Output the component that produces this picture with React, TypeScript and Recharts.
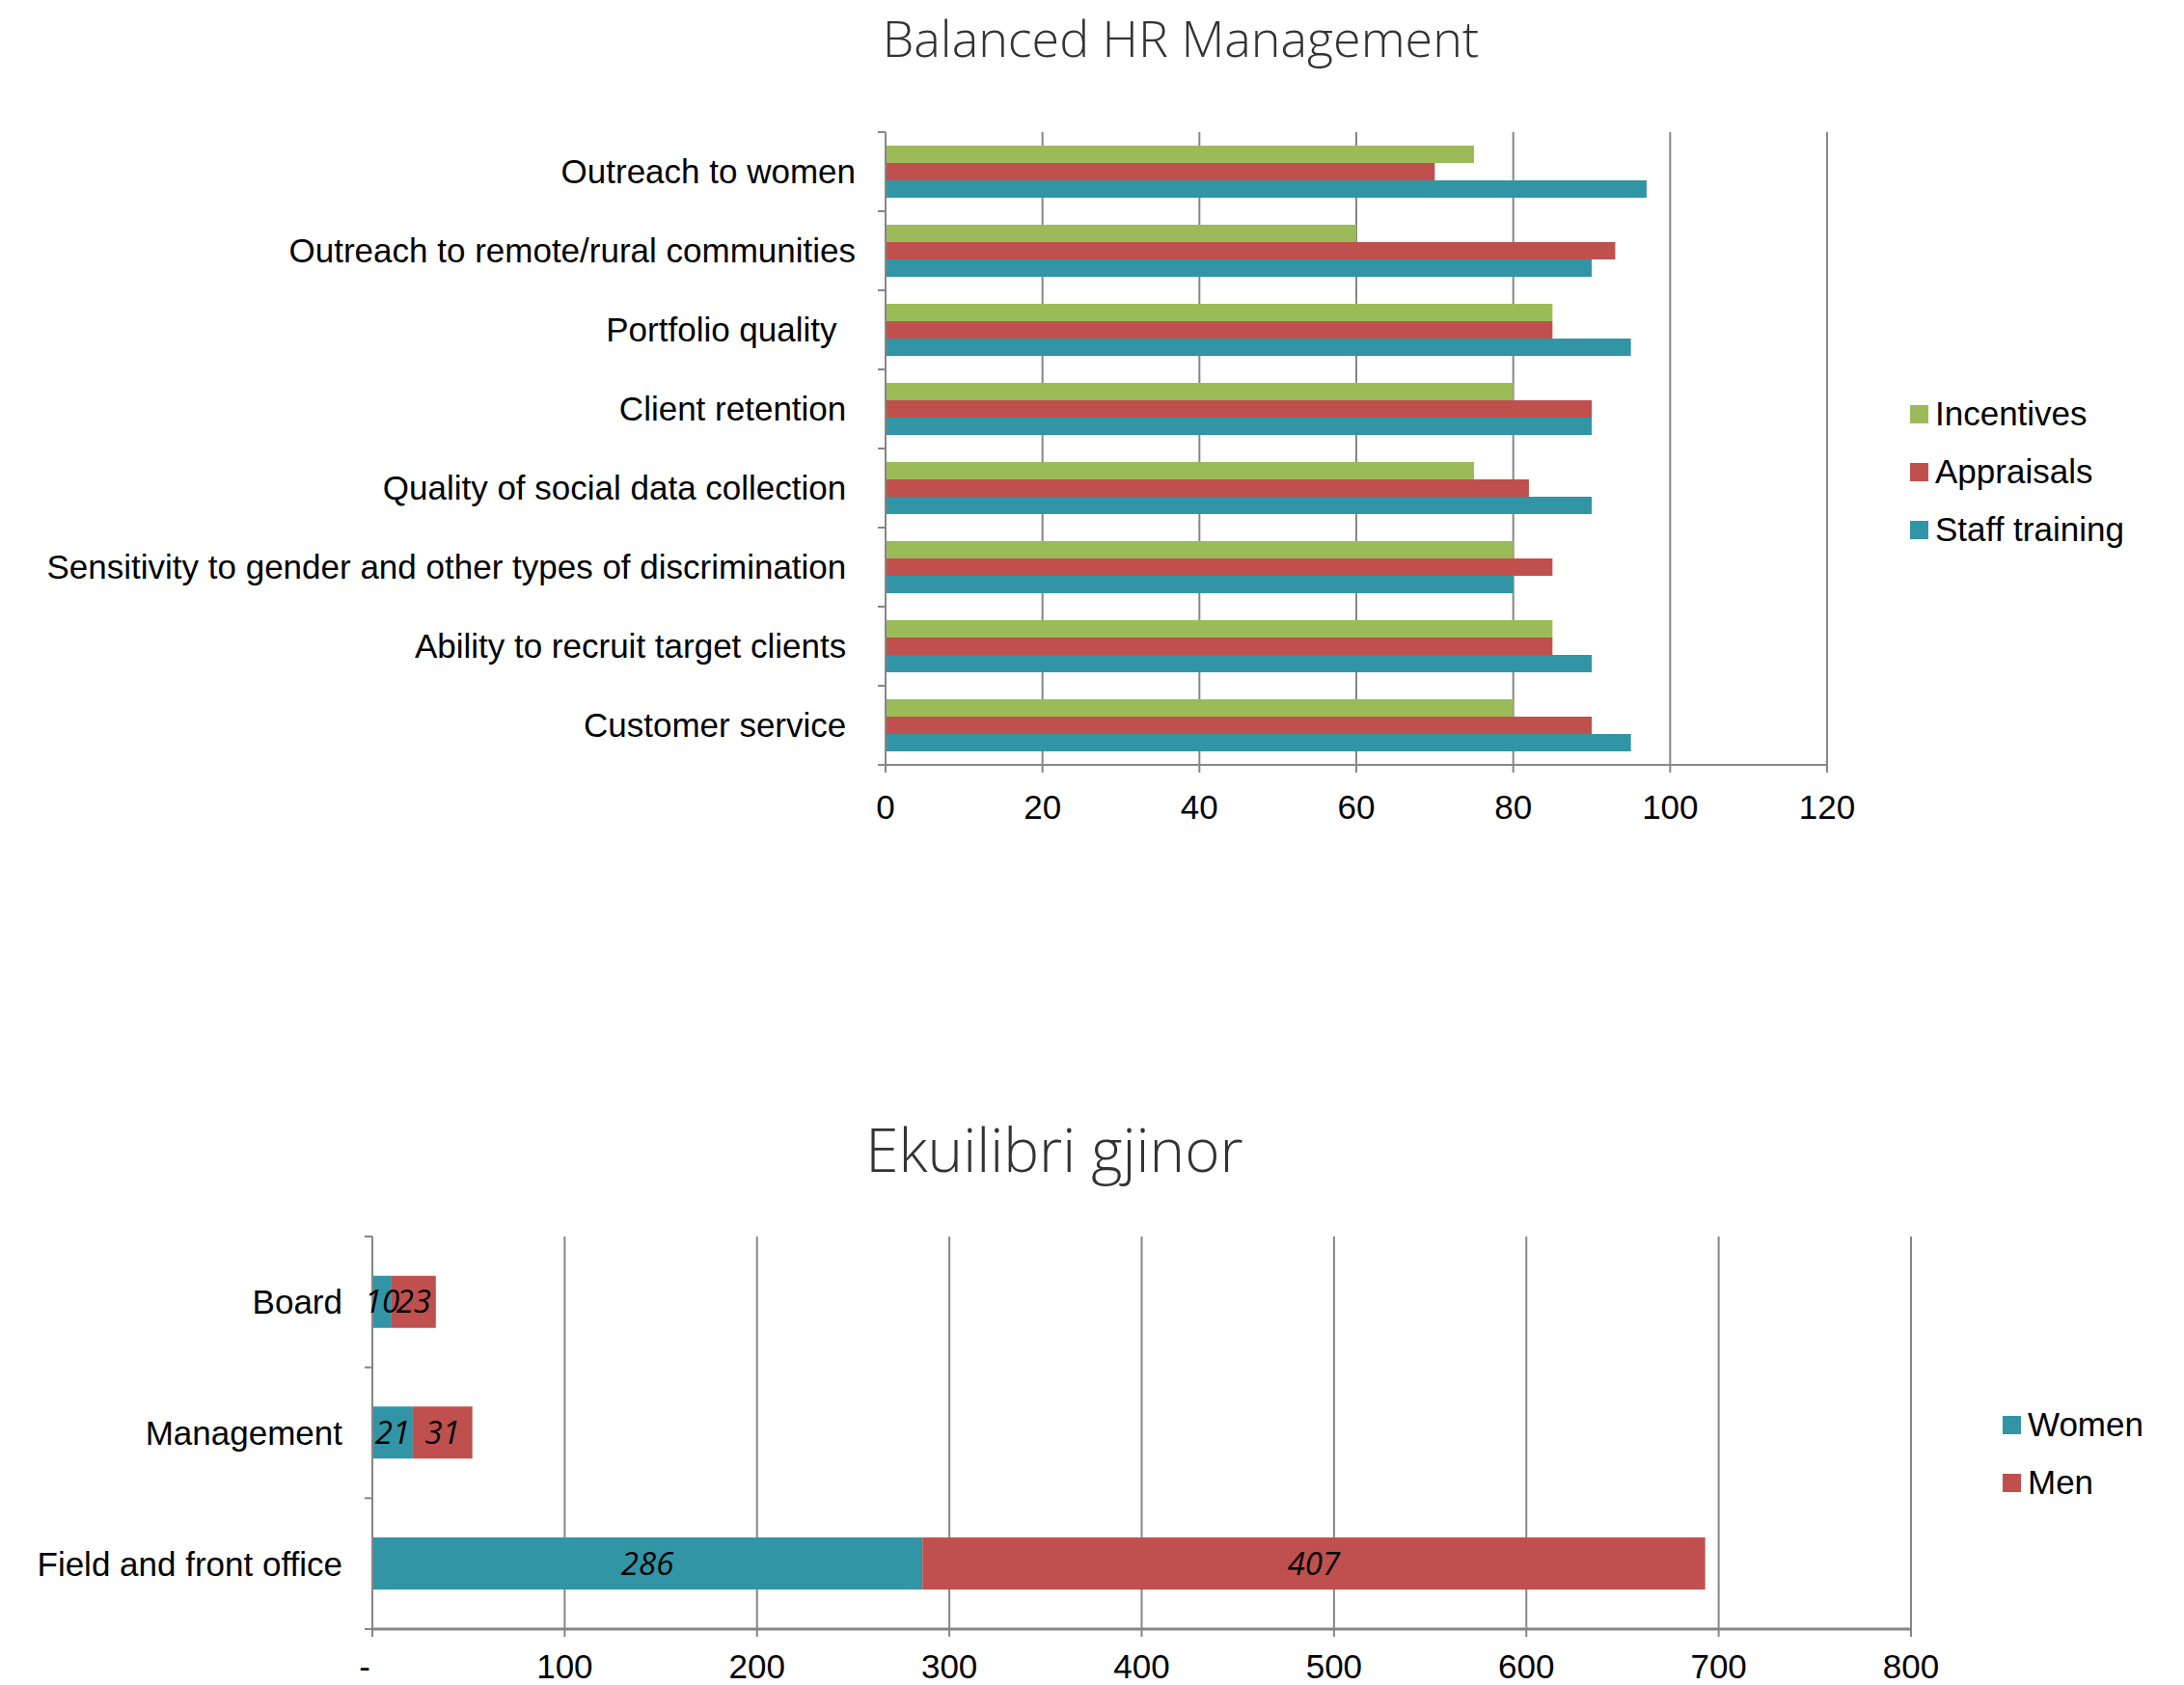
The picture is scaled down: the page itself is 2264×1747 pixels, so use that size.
import React from 'react';
import {
  BarChart,
  Bar,
  XAxis,
  YAxis,
  CartesianGrid,
  LabelList,
} from 'recharts';

// chart 1: Balanced HR Management
const hrCategories = [
  'Outreach to women',
  'Outreach to remote/rural communities',
  'Portfolio quality  ',
  'Client retention ',
  'Quality of social data collection ',
  'Sensitivity to gender and other types of discrimination ',
  'Ability to recruit target clients ',
  'Customer service ',
];
const incentives = [75, 60, 85, 80, 75, 80, 85, 80];
const appraisals = [70, 93, 85, 90, 82, 85, 85, 90];
const staffTraining = [97, 90, 95, 90, 90, 80, 90, 95];
const hrTicks = [0, 20, 40, 60, 80, 100, 120];

// chart 2: Ekuilibri gjinor
const genderCategories = ['Board', 'Management', 'Field and front office'];
const women = [10, 21, 286];
const men = [23, 31, 407];
const genderTicks = [0, 100, 200, 300, 400, 500, 600, 700, 800];

const GREEN = '#9BBB59';
const RED = '#C0504D';
const TEAL = '#3295A5';
const GRID = '#868686';
const FONT = '"Liberation Sans", Arial, sans-serif';
const TITLE_FONT = '"Open Sans", sans-serif';

const hrData = hrCategories.map((name, i) => ({
  name,
  incentives: incentives[i],
  appraisals: appraisals[i],
  staff: staffTraining[i],
}));

const genderData = genderCategories.map((name, i) => ({
  name,
  women: women[i],
  men: men[i],
}));

// category tick: label plus a tick mark on the band edges (like Excel)
const CategoryTick = (props: any) => {
  const { x, y, payload, index, visibleTicksCount } = props;
  const axisX = x + 31;
  const half = payload && payload.offset ? payload.offset : 0;
  return (
    <g>
      <line x1={axisX - 8} x2={axisX} y1={y - half} y2={y - half} stroke={GRID} strokeWidth={2} />
      {index === visibleTicksCount - 1 && (
        <line x1={axisX - 8} x2={axisX} y1={y + half} y2={y + half} stroke={GRID} strokeWidth={2} />
      )}
      <text
        x={x}
        y={y}
        dy="0.355em"
        textAnchor="end"
        fill="#000"
        fontSize={35}
        fontFamily={FONT}
        style={{ whiteSpace: 'pre' }}
      >
        {payload.value}
      </text>
    </g>
  );
};

// number tick for the gender chart: zero is shown as a dash, like accounting format
const DashTick = (props: any) => {
  const { x, y, payload } = props;
  const zero = payload.value === 0;
  return (
    <text
      x={zero ? x - 8 : x}
      y={y}
      dy="0.71em"
      textAnchor="middle"
      fill="#000"
      fontSize={35}
      fontFamily={FONT}
    >
      {zero ? '-' : String(payload.value)}
    </text>
  );
};

const legendItem = (label: string, color: string, left: number, top: number) => (
  <div
    key={label}
    style={{
      position: 'absolute',
      left,
      top: top - 22,
      height: 44,
      display: 'flex',
      alignItems: 'center',
      fontFamily: FONT,
      fontSize: 35,
      color: '#000',
      whiteSpace: 'nowrap',
    }}
  >
    <span style={{ width: 19, height: 19, background: color, marginRight: 7, display: 'inline-block' }} />
    {label}
  </div>
);

export default function App() {
  return (
    <div style={{ position: 'absolute', left: 0, top: 0, width: 2264, height: 1747, background: '#fff' }}>
      <div
        style={{
          position: 'absolute',
          left: 0,
          width: 2448,
          top: 3,
          textAlign: 'center',
          fontFamily: TITLE_FONT,
          fontWeight: 300,
          fontSize: 52,
          color: '#333',
        }}
      >
        Balanced HR Management
      </div>
      <div style={{ position: 'absolute', left: 0, top: 0 }}>
        <BarChart
          width={2264}
          height={900}
          data={hrData}
          layout="vertical"
          barCategoryGap="17%"
          barGap={0}
          margin={{ top: 137, right: 370, bottom: 47, left: 0 }}
        >
          <CartesianGrid horizontal={false} stroke={GRID} strokeWidth={2} />
          <XAxis
            type="number"
            domain={[0, 120]}
            ticks={hrTicks}
            height={60}
            axisLine={{ stroke: GRID, strokeWidth: 2 }}
            tickLine={{ stroke: GRID, strokeWidth: 2 }}
            tickSize={8}
            tickMargin={23}
            tick={{ fill: '#000', fontSize: 35, fontFamily: FONT }}
          />
          <YAxis
            type="category"
            dataKey="name"
            width={918}
            axisLine={{ stroke: GRID, strokeWidth: 2 }}
            tickLine={false}
            tickSize={8}
            tickMargin={23}
            tick={<CategoryTick />}
            interval={0}
          />
          <Bar dataKey="incentives" name="Incentives" fill={GREEN} isAnimationActive={false} />
          <Bar dataKey="appraisals" name="Appraisals" fill={RED} isAnimationActive={false} />
          <Bar dataKey="staff" name="Staff training" fill={TEAL} isAnimationActive={false} />
        </BarChart>
      </div>
      {legendItem('Incentives', GREEN, 1980, 429)}
      {legendItem('Appraisals', RED, 1980, 489)}
      {legendItem('Staff training', TEAL, 1980, 549)}

      <div
        style={{
          position: 'absolute',
          left: 0,
          width: 2186,
          top: 1149,
          textAlign: 'center',
          fontFamily: TITLE_FONT,
          fontWeight: 300,
          fontSize: 62,
          color: '#333',
        }}
      >
        Ekuilibri gjinor
      </div>
      <div style={{ position: 'absolute', left: 0, top: 1250 }}>
        <BarChart
          width={2264}
          height={497}
          data={genderData}
          layout="vertical"
          barCategoryGap="30%"
          margin={{ top: 32, right: 283, bottom: 0, left: 0 }}
        >
          <CartesianGrid horizontal={false} stroke={GRID} strokeWidth={2} />
          <XAxis
            type="number"
            domain={[0, 800]}
            ticks={genderTicks}
            height={58}
            axisLine={{ stroke: GRID, strokeWidth: 3 }}
            tickLine={{ stroke: GRID, strokeWidth: 2 }}
            tickSize={8}
            tickMargin={18}
            tick={<DashTick />}
          />
          <YAxis
            type="category"
            dataKey="name"
            width={386}
            axisLine={{ stroke: GRID, strokeWidth: 2 }}
            tickLine={false}
            tickSize={8}
            tickMargin={23}
            tick={<CategoryTick />}
            interval={0}
          />
          <Bar dataKey="women" name="Women" stackId="g" fill={TEAL} isAnimationActive={false}>
            <LabelList dataKey="women" position="center" fill="#000" fontSize={33} fontStyle="italic" fontFamily={TITLE_FONT} />
          </Bar>
          <Bar dataKey="men" name="Men" stackId="g" fill={RED} isAnimationActive={false}>
            <LabelList dataKey="men" position="center" fill="#000" fontSize={33} fontStyle="italic" fontFamily={TITLE_FONT} />
          </Bar>
        </BarChart>
      </div>
      {legendItem('Women', TEAL, 2076, 1477)}
      {legendItem('Men', RED, 2076, 1537)}
    </div>
  );
}
